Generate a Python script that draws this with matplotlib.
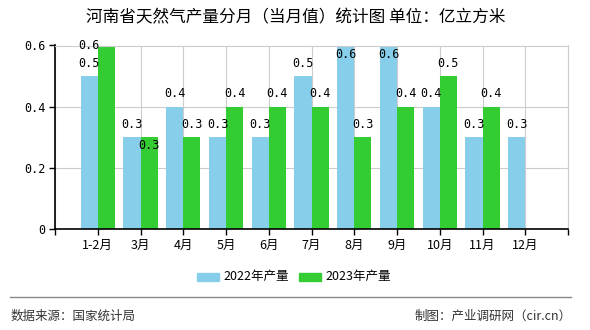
import matplotlib
matplotlib.use("Agg")
import matplotlib.pyplot as plt
from matplotlib.patches import Rectangle
from matplotlib.lines import Line2D
import numpy as np

plt.rcParams['font.family'] = ['Noto Sans CJK SC', 'DejaVu Sans']

categories = ['1-2月', '3月', '4月', '5月', '6月', '7月', '8月', '9月', '10月', '11月', '12月']
values_2022 = [0.5, 0.3, 0.4, 0.3, 0.3, 0.5, 0.6, 0.6, 0.4, 0.3, 0.3]
values_2023 = [0.6, 0.3, 0.3, 0.4, 0.4, 0.4, 0.3, 0.4, 0.5, 0.4]
series_names = ['2022年产量', '2023年产量']
colors = ['#87CEEB', '#33CC33']
title = '河南省天然气产量分月（当月值）统计图 单位：亿立方米'
source = '数据来源：国家统计局'
maker = '制图：产业调研网（cir.cn）'

fig = plt.figure(figsize=(5.9, 3.3), dpi=100)
W, H = 590, 330
ax = fig.add_axes([55 / W, 1 - 229 / H, (568 - 55) / W, (229 - 45.5) / H])

x = np.arange(len(categories))
bw = 0.4
ax.bar(x[:len(values_2022)] - bw / 2, values_2022, width=bw, color=colors[0], zorder=2)
ax.bar(x[:len(values_2023)] + bw / 2, values_2023, width=bw, color=colors[1], zorder=2)

ax.set_xlim(-1, len(categories))
ax.set_ylim(0, 0.6)
ticks = list(range(-1, len(categories) + 1))
ax.set_xticks(ticks)
ax.set_xticklabels([''] + categories + [''], fontsize=9)
ax.set_yticks([0, 0.2, 0.4, 0.6])
ax.set_yticklabels(['0', '0.2', '0.4', '0.6'], fontsize=8.5, family='DejaVu Sans Mono')
ax.grid(True, color='#CCCCCC', linewidth=0.8, zorder=0)
ax.tick_params(axis='both', length=4, width=1, color='black', pad=3)
for s in ['top', 'right']:
    ax.spines[s].set_color('#CCCCCC')
for s in ['left', 'bottom']:
    ax.spines[s].set_color('black')
    ax.spines[s].set_linewidth(1.2)

# value labels
def label(series, shift, offsets):
    for i, v in enumerate(series):
        dx, dy = offsets.get(i, (0, 13))
        ax.annotate(f'{v:.1f}', (i + shift, v), xytext=(dx, dy), textcoords='offset pixels',
                    ha='center', va='center', fontsize=8.5, family='DejaVu Sans Mono',
                    annotation_clip=False, zorder=5)

label(values_2022, -bw / 2, {6: (0, -9), 7: (0, -9)})
label(values_2023, bw / 2, {0: (-17, 0), 1: (0, -8)})

# title
fig.text(296 / W, 1 - 18 / H, title, ha='center', va='center', fontsize=12, color='black')

# legend
for px, name, c in [(197, series_names[0], colors[0]), (299, series_names[1], colors[1])]:
    fig.patches.append(Rectangle((px / W, 1 - 281 / H), 22 / W, 8 / H, transform=fig.transFigure,
                                 color=c, figure=fig))
    fig.text((px + 26) / W, 1 - 276.5 / H, name, ha='left', va='center', fontsize=9)

# footer
fig.add_artist(Line2D([10 / W, 571 / W], [1 - 297 / H, 1 - 297 / H], transform=fig.transFigure,
                      color='#888888', linewidth=1))
fig.text(11 / W, 1 - 316 / H, source, ha='left', va='center', fontsize=9, color='#333333')
fig.text(572 / W, 1 - 316 / H, maker, ha='right', va='center', fontsize=9, color='#333333')

fig.savefig('out.png', dpi=100)
